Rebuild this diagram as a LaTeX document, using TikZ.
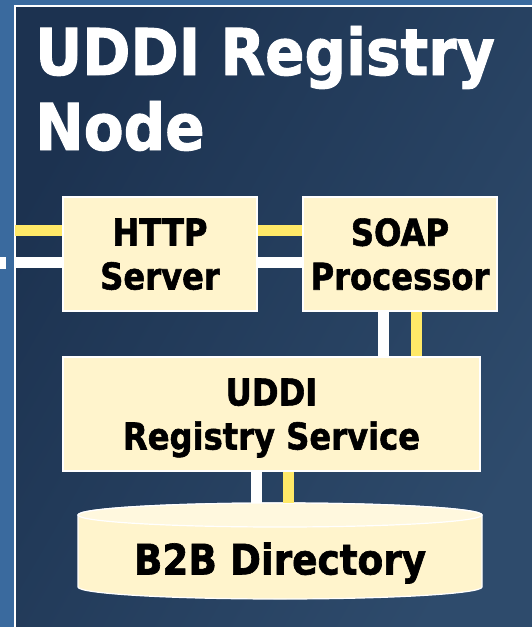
\documentclass[tikz,border=0pt]{standalone}
\usepackage{fontspec}
\newfontfamily\lblfont{DejaVu Sans}[FakeStretch=0.87,FakeBold=1.5]
\newfontfamily\headfont{DejaVu Sans}[FakeStretch=0.9,FakeBold=1.5]
\newfontfamily\dirfont{DejaVu Sans}[FakeStretch=0.89,FakeBold=1.5]
\definecolor{slate}{HTML}{3A6A9E}
\definecolor{navy}{HTML}{1C3250}
\definecolor{navylight}{HTML}{2E4B6C}
\definecolor{cream}{HTML}{FFF4CC}
\definecolor{creamtop}{HTML}{FFF8DE}
\definecolor{wire}{HTML}{FFE968}
\begin{document}
\begin{tikzpicture}[x=1pt,y=-1pt,
  box/.style={draw=white, line width=1.2pt, fill=cream, inner sep=0pt,
    align=center, text depth=0pt,
    font=\lblfont\bfseries\fontsize{37}{44}\selectfont},
  title/.style={anchor=base west, inner sep=0pt, text=white,
    font=\headfont\bfseries\fontsize{64.5}{75}\selectfont},
  ywire/.style={draw=wire, line width=11pt},
  wwire/.style={draw=white, line width=11pt}]

\useasboundingbox (0,0) rectangle (532,627);
\clip (0,0) rectangle (532,627);

% backdrop: slate margin, dark panel, white frame
\fill[slate] (0,0) rectangle (532,627);
\shade[left color=navy, right color=navylight, shading angle=60]
  (15,6) rectangle (540,640);
\draw[white, line width=2pt] (15,640) -- (15,6) -- (540,6);
\fill[white] (0,257) rectangle (5.5,269);

% title
\node[title] (title1) at (35,75) {UDDI Registry};
\node[title] (title2) at (35,150) {Node};

% components
\node[box, minimum width=194pt, minimum height=114pt] (http) at (160,254) {HTTP\\Server};
\node[box, minimum width=194pt, minimum height=114pt] (soap) at (400,254) {SOAP\\Processor};
\node[box, minimum width=417pt, minimum height=114pt] (reg) at (271.5,414) {UDDI\\Registry Service};

% directory cylinder
\node[inner sep=0pt, minimum width=404pt, minimum height=96pt] (b2b) at (280,551) {};
\filldraw[fill=cream, draw=white, line width=1.2pt]
  (78,515) -- (78,587) arc[start angle=180, end angle=360, x radius=202pt, y radius=12pt]
  -- (482,515) arc[start angle=0, end angle=180, x radius=202pt, y radius=12pt] -- cycle;
\filldraw[fill=creamtop, draw=white, line width=1.2pt]
  (280,515) ellipse[x radius=202pt, y radius=12pt];
\node[inner sep=0pt, text depth=0pt, font=\dirfont\bfseries\fontsize{42}{50}\selectfont]
  (b2blbl) at (280,558.5) {B2B Directory};

% connector tracks
\coordinate (hy) at (0,230.5);
\coordinate (hw) at (0,262.5);
\coordinate (edgeL) at (15,0);
\coordinate (vw1) at (383.5,0);
\coordinate (vy1) at (416,0);
\coordinate (vw2) at (256,0);
\coordinate (vy2) at (288,0);

\draw[ywire] (edgeL |- hy) -- (http.west |- hy);
\draw[wwire] (edgeL |- hw) -- (http.west |- hw);
\draw[ywire] (http.east |- hy) -- (soap.west |- hy);
\draw[wwire] (http.east |- hw) -- (soap.west |- hw);
\draw[wwire] (soap.south -| vw1) -- (reg.north -| vw1);
\draw[ywire] (soap.south -| vy1) -- (reg.north -| vy1);
\draw[wwire] (reg.south -| vw2) -- (b2b.north -| vw2);
\draw[ywire] (reg.south -| vy2) -- (b2b.north -| vy2);
\end{tikzpicture}
\end{document}
